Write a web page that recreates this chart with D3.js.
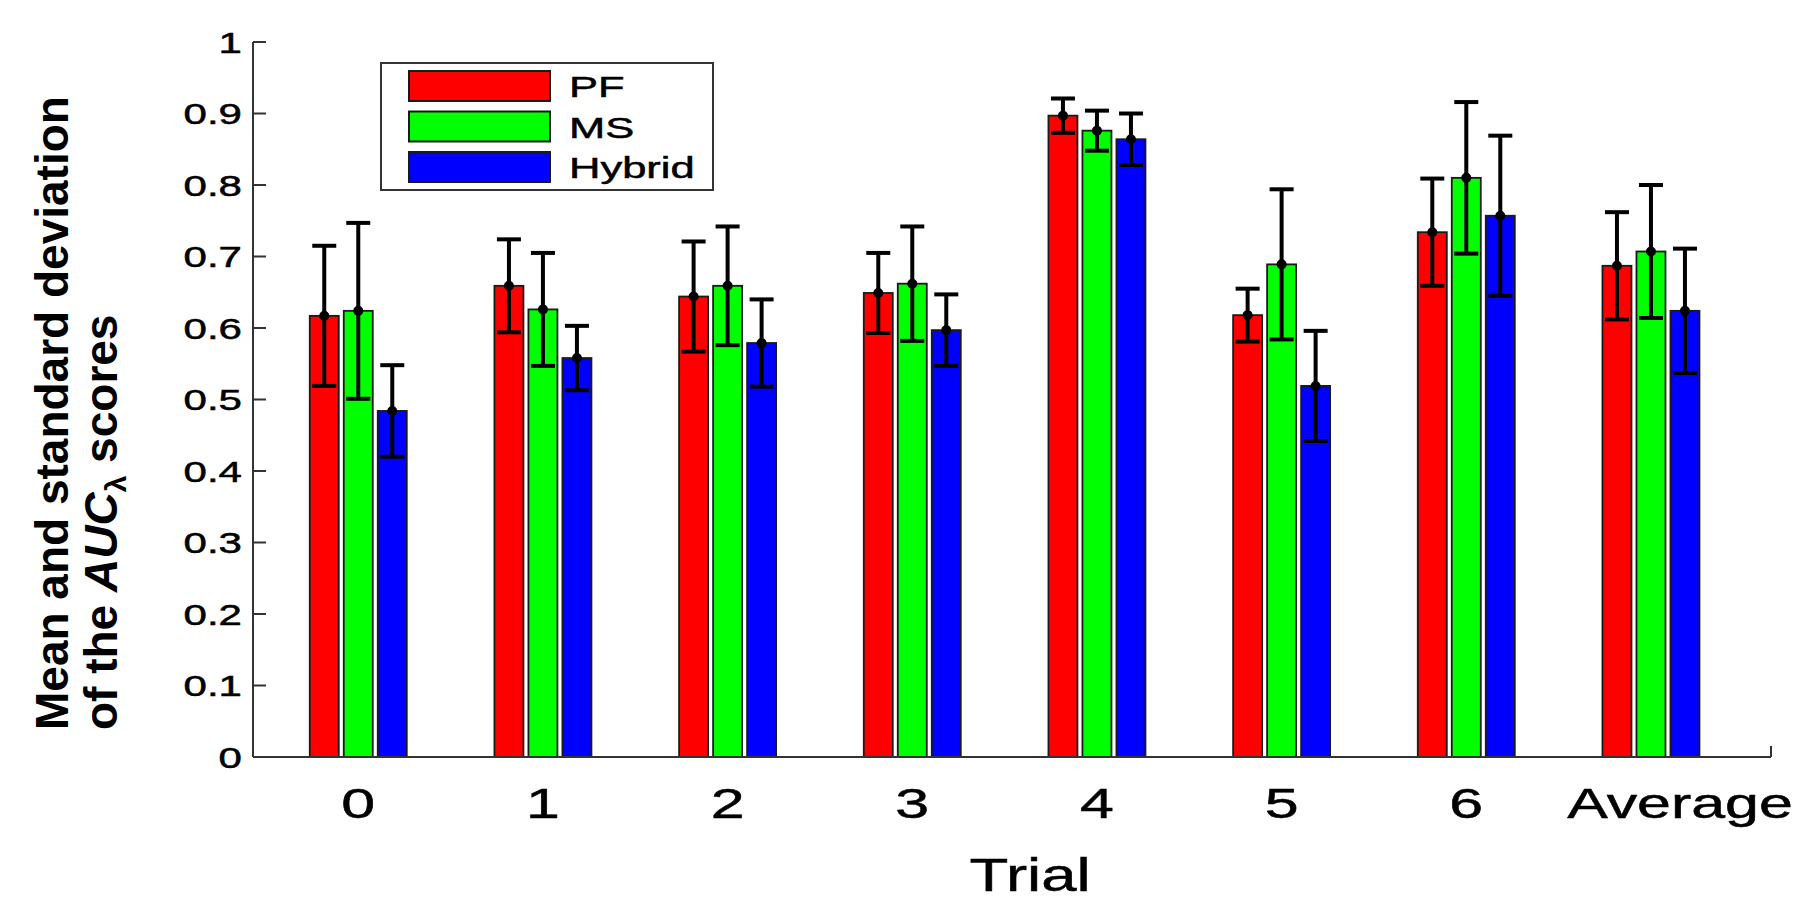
<!DOCTYPE html>
<html>
<head>
<meta charset="utf-8">
<script src="https://cdn.jsdelivr.net/npm/d3@7"></script>
<style>
  body { margin: 0; background: #fff; }
  text { font-family: "Liberation Sans", Arial, sans-serif; fill: #000; }
  .wide { stroke: #000; stroke-width: 0.5px; }
</style>
</head>
<body>
<div id="plot"></div>
<script>

var trials = ['0', '1', '2', '3', '4', '5', '6', 'Average'];
var series = ['PF', 'MS', 'Hybrid'];

var pfMean = [0.617, 0.659, 0.644, 0.649, 0.897, 0.618, 0.734, 0.687];
var pfStd  = [0.098, 0.065, 0.077, 0.056, 0.024, 0.037, 0.075, 0.075];
var msMean = [0.624, 0.626, 0.659, 0.662, 0.876, 0.689, 0.810, 0.707];
var msStd  = [0.123, 0.079, 0.083, 0.080, 0.028, 0.105, 0.106, 0.093];
var hyMean = [0.484, 0.558, 0.579, 0.597, 0.864, 0.519, 0.757, 0.624];
var hyStd  = [0.064, 0.045, 0.061, 0.050, 0.036, 0.077, 0.112, 0.087];

var yTicks = [0, 0.1, 0.2, 0.3, 0.4, 0.5, 0.6, 0.7, 0.8, 0.9, 1];
var yTickLabels = ['0', '0.1', '0.2', '0.3', '0.4', '0.5', '0.6', '0.7', '0.8', '0.9', '1'];

var colors = ['#ff0000', '#00ff00', '#0000ff'];

function drawChart() {

var width = 1819, height = 898;
var plotLeft = 253, plotRight = 1771, plotTop = 42, plotBottom = 757;
var stretch = 1.45; // tick text in the original is drawn wide

var svg = d3.select('#plot').append('svg')
    .attr('width', width)
    .attr('height', height);

var x = d3.scaleLinear().domain([-0.57, 7.65]).range([plotLeft, plotRight]);
var y = d3.scaleLinear().domain([0, 1]).range([plotBottom, plotTop]);
var offset = d3.scaleLinear().domain([0, 2]).range([-34, 34]);
var barW = 29;

// build rows from the arrays
var means = [pfMean, msMean, hyMean];
var stds = [pfStd, msStd, hyStd];
var rows = [];
trials.forEach(function(t, i) {
    series.forEach(function(s, j) {
        rows.push({ trial: i, s: j, mean: means[j][i], sd: stds[j][i] });
    });
});

// bars
svg.append('g').selectAll('rect')
    .data(rows)
    .enter().append('rect')
    .attr('x', function(d) { return x(d.trial) + offset(d.s) - barW / 2; })
    .attr('y', function(d) { return y(d.mean); })
    .attr('width', barW)
    .attr('height', function(d) { return y(0) - y(d.mean); })
    .attr('fill', function(d) { return colors[d.s]; })
    .attr('stroke', '#1a1a1a')
    .attr('stroke-width', 1.8);

// error bars
var err = svg.append('g').selectAll('g')
    .data(rows)
    .enter().append('g')
    .attr('stroke', '#000')
    .attr('stroke-width', 4);

err.append('line')
    .attr('x1', function(d) { return x(d.trial) + offset(d.s); })
    .attr('x2', function(d) { return x(d.trial) + offset(d.s); })
    .attr('y1', function(d) { return y(d.mean + d.sd); })
    .attr('y2', function(d) { return y(d.mean - d.sd); });

err.append('line')
    .attr('x1', function(d) { return x(d.trial) + offset(d.s) - 12; })
    .attr('x2', function(d) { return x(d.trial) + offset(d.s) + 12; })
    .attr('y1', function(d) { return y(d.mean + d.sd); })
    .attr('y2', function(d) { return y(d.mean + d.sd); });

err.append('line')
    .attr('x1', function(d) { return x(d.trial) + offset(d.s) - 12; })
    .attr('x2', function(d) { return x(d.trial) + offset(d.s) + 12; })
    .attr('y1', function(d) { return y(d.mean - d.sd); })
    .attr('y2', function(d) { return y(d.mean - d.sd); });

err.append('circle')
    .attr('cx', function(d) { return x(d.trial) + offset(d.s); })
    .attr('cy', function(d) { return y(d.mean); })
    .attr('r', 4)
    .attr('fill', '#000')
    .attr('stroke-width', 2);

// axes
var axisColor = '#333';
svg.append('line')
    .attr('x1', plotLeft).attr('x2', plotLeft)
    .attr('y1', y(1)).attr('y2', y(0))
    .attr('stroke', axisColor).attr('stroke-width', 2);
svg.append('line')
    .attr('x1', plotLeft).attr('x2', plotRight)
    .attr('y1', y(0)).attr('y2', y(0))
    .attr('stroke', axisColor).attr('stroke-width', 2);
svg.append('line')
    .attr('x1', plotRight).attr('x2', plotRight)
    .attr('y1', y(0)).attr('y2', y(0) - 11)
    .attr('stroke', axisColor).attr('stroke-width', 2);

var yAxis = svg.append('g');
yAxis.selectAll('line')
    .data(yTicks)
    .enter().append('line')
    .attr('x1', plotLeft).attr('x2', plotLeft + 13)
    .attr('y1', function(d) { return y(d); })
    .attr('y2', function(d) { return y(d); })
    .attr('stroke', axisColor).attr('stroke-width', 2);

yAxis.selectAll('text')
    .data(yTicks)
    .enter().append('text')
    .attr('class', 'wide')
    .attr('transform', function(d) { return 'translate(' + (plotLeft - 11) + ',' + (y(d) + 10.5) + ') scale(' + stretch + ',1)'; })
    .attr('text-anchor', 'end')
    .style('font-size', '29px')
    .text(function(d, i) { return yTickLabels[i]; });

svg.append('g').selectAll('text')
    .data(trials)
    .enter().append('text')
    .attr('class', 'wide')
    .attr('transform', function(d, i) {
        var dx = (i == trials.length - 1) ? 29 : 0;
        return 'translate(' + (x(i) + dx) + ',818) scale(' + stretch + ',1)';
    })
    .attr('text-anchor', 'middle')
    .style('font-size', '42px')
    .text(function(d) { return d; });

// axis titles
svg.append('text')
    .attr('class', 'wide')
    .attr('transform', 'translate(1030,891) scale(1.38,1)')
    .attr('text-anchor', 'middle')
    .style('font-size', '46px')
    .text('Trial');

var ytitle = svg.append('g')
    .style('font-weight', 'bold')
    .style('font-size', '46px');

ytitle.append('text')
    .attr('transform', 'translate(68,730) rotate(-90)')
    .text('Mean and standard deviation');

var t2 = ytitle.append('text')
    .attr('transform', 'translate(117,730) rotate(-90)');
t2.append('tspan').text('of the ');
t2.append('tspan').style('font-style', 'italic').text('AUC');
t2.append('tspan').style('font-size', '30px').attr('dy', 9).text('\u03bb');
t2.append('tspan').attr('dy', -9).text(' scores');

// legend
var legend = svg.append('g');
legend.append('rect')
    .attr('x', 381).attr('y', 63)
    .attr('width', 332).attr('height', 127)
    .attr('fill', '#fff')
    .attr('stroke', axisColor).attr('stroke-width', 2);

var item = legend.selectAll('g')
    .data(series)
    .enter().append('g')
    .attr('transform', function(d, i) { return 'translate(409,' + (71 + i * 40.5) + ')'; });

item.append('rect')
    .attr('width', 141).attr('height', 30)
    .attr('fill', function(d, i) { return colors[i]; })
    .attr('stroke', '#1a1a1a').attr('stroke-width', 2);

item.append('text')
    .attr('class', 'wide')
    .attr('transform', 'translate(160,26) scale(' + stretch + ',1)')
    .style('font-size', '30px')
    .text(function(d) { return d; });
}

drawChart();

</script>
</body>
</html>
